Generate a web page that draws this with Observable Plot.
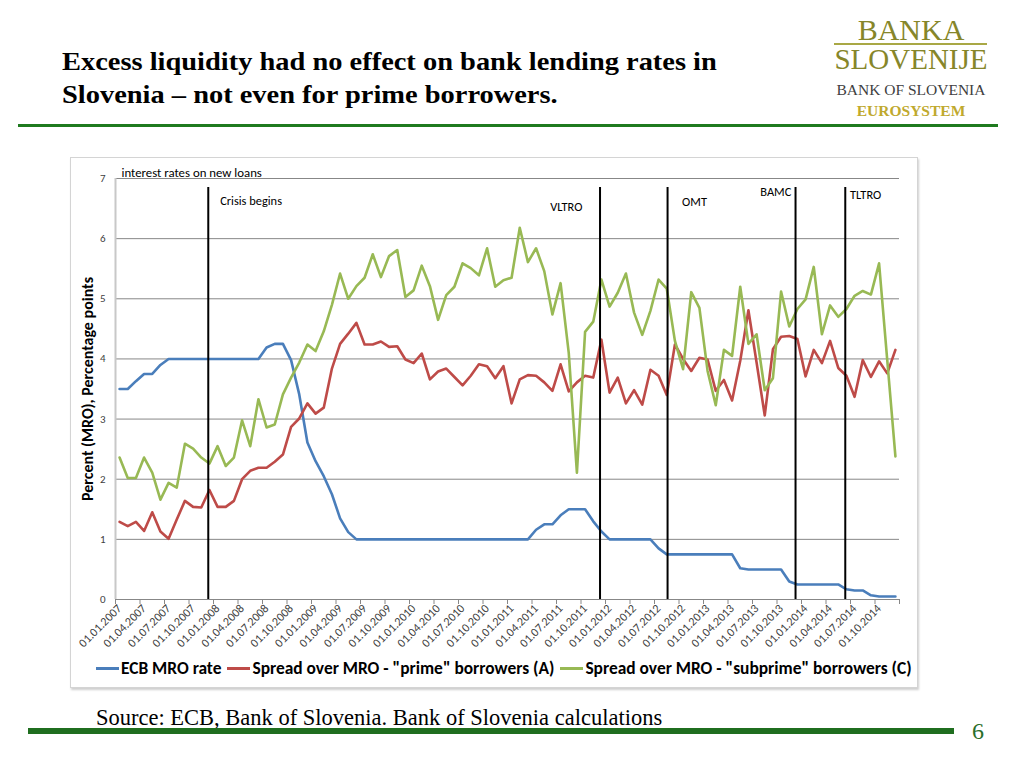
<!DOCTYPE html>
<html>
<head>
<meta charset="utf-8">
<script src="https://cdn.jsdelivr.net/npm/d3@7"></script>
<script src="https://cdn.jsdelivr.net/npm/@observablehq/plot@0.6"></script>
<style>
  html, body { margin: 0; padding: 0; background: #fff; }
  body { width: 1024px; height: 768px; position: relative; overflow: hidden; font-family: Carlito, Lato, sans-serif; }
  .serif { font-family: "Liberation Serif", "Times New Roman", serif; }
  #title { position: absolute; left: 62px; top: 46px; font-size: 25.5px; line-height: 32.5px; font-weight: bold; color: #000; white-space: nowrap; transform: scaleX(1.115); transform-origin: 0 0; }
  #rule1 { position: absolute; left: 18px; top: 124px; width: 980px; height: 3px; background: #1f7a1f; }
  #logo { position: absolute; left: 811px; top: 0; width: 200px; text-align: center; }
  #logo div { position: absolute; left: 0; width: 200px; line-height: 1; white-space: nowrap; }
  #frame { position: absolute; left: 70px; top: 157px; width: 846px; height: 529px; border: 1px solid #d4d4d4; box-shadow: 1px 2px 2px #cfcfcf; }
  #chart { position: absolute; left: 70px; top: 157px; }
  #legend { position: absolute; left: 96px; top: 658px; height: 20px; display: flex; align-items: center; font-family: Carlito, Lato, sans-serif; font-weight: bold; font-size: 17.4px; color: #000; white-space: nowrap; }
  #legend .sw { display: inline-block; width: 23px; height: 3px; margin-right: 2px; }
  #legend .it { display: flex; align-items: center; margin-right: 6px; }
  #source { position: absolute; left: 96px; top: 707px; font-size: 22.5px; line-height: 1; color: #000; white-space: nowrap; }
  #rule2 { position: absolute; left: 28px; top: 728px; width: 926px; height: 6px; background: #1f6e1f; }
  #page { position: absolute; left: 972px; top: 719px; font-size: 24px; line-height: 1; color: #2a6e2a; }
</style>
</head>
<body>
<div id="title" class="serif">Excess liquidity had no effect on bank lending rates in<br>Slovenia – not even for prime borrowers.</div>
<div id="rule1"></div>
<div id="logo" class="serif">
  <div style="top:15px;font-size:30px;color:#86862a;">BANKA</div>
  <div style="top:43px;left:23px;width:153px;height:2px;background:#a9a845;"></div>
  <div style="top:45px;font-size:29px;color:#86862a;">SLOVENIJE</div>
  <div style="top:82px;font-size:15.5px;color:#404040;">BANK OF SLOVENIA</div>
  <div style="top:103px;font-size:15.5px;font-weight:bold;color:#bfa92e;">EUROSYSTEM</div>
</div>
<div id="frame"></div>
<div id="chart"></div>
<div id="legend"></div>
<div id="source" class="serif">Source: ECB, Bank of Slovenia. Bank of Slovenia calculations</div>
<div id="rule2"></div>
<div id="page" class="serif">6</div>
<script>
// Monthly observations, January 2007 – December 2014
const mroRate = [
  3.5,3.5,3.63,3.75,3.75,3.9,4.0,4.0,4.0,4.0,4.0,4.0,
  4.0,4.0,4.0,4.0,4.0,4.0,4.19,4.25,4.25,3.98,3.41,2.61,
  2.3,2.05,1.75,1.35,1.12,1.0,1.0,1.0,1.0,1.0,1.0,1.0,
  1.0,1.0,1.0,1.0,1.0,1.0,1.0,1.0,1.0,1.0,1.0,1.0,
  1.0,1.0,1.0,1.16,1.25,1.25,1.4,1.5,1.5,1.5,1.3,1.13,
  1.0,1.0,1.0,1.0,1.0,1.0,0.85,0.75,0.75,0.75,0.75,0.75,
  0.75,0.75,0.75,0.75,0.52,0.5,0.5,0.5,0.5,0.5,0.3,0.25,
  0.25,0.25,0.25,0.25,0.25,0.17,0.15,0.15,0.07,0.05,0.05,0.05
];
const primeSpread = [
  1.29,1.22,1.29,1.14,1.45,1.13,1.01,1.33,1.64,1.54,1.53,1.82,
  1.54,1.54,1.64,2.0,2.14,2.19,2.19,2.29,2.41,2.87,3.01,3.26,
  3.09,3.19,3.84,4.25,4.42,4.6,4.24,4.24,4.29,4.2,4.21,3.99,
  3.93,4.09,3.66,3.79,3.84,3.7,3.56,3.72,3.91,3.88,3.68,3.88,
  3.26,3.66,3.73,3.72,3.61,3.47,3.91,3.46,3.61,3.72,3.69,4.32,
  3.44,3.69,3.26,3.48,3.24,3.82,3.72,3.4,4.24,4.0,3.8,4.02,
  3.99,3.47,3.65,3.31,3.97,4.81,3.94,3.06,4.16,4.37,4.38,4.33,
  3.71,4.15,3.93,4.3,3.85,3.72,3.37,3.98,3.7,3.96,3.76,4.15
];
const subprimeSpread = [
  2.36,2.02,2.02,2.36,2.11,1.66,1.94,1.86,2.59,2.51,2.36,2.26,
  2.55,2.22,2.36,2.98,2.55,3.33,2.86,2.91,3.41,3.69,3.94,4.24,
  4.13,4.46,4.9,5.42,5.0,5.21,5.35,5.74,5.36,5.71,5.81,5.03,
  5.14,5.55,5.21,4.65,5.06,5.2,5.59,5.51,5.39,5.84,5.2,5.31,
  5.35,6.18,5.61,5.84,5.46,4.74,5.26,4.1,2.11,4.45,4.62,5.32,
  4.87,5.1,5.42,4.77,4.4,4.8,5.32,5.17,4.3,3.83,5.11,4.85,
  3.8,3.23,4.15,4.05,5.2,4.25,4.41,3.48,3.68,5.12,4.54,4.83,
  4.99,5.53,4.41,4.89,4.7,4.83,5.05,5.13,5.07,5.59,3.98,2.38
];
const tickLabels = [
  "01.01.2007","01.04.2007","01.07.2007","01.10.2007",
  "01.01.2008","01.04.2008","01.07.2008","01.10.2008",
  "01.01.2009","01.04.2009","01.07.2009","01.10.2009",
  "01.01.2010","01.04.2010","01.07.2010","01.10.2010",
  "01.01.2011","01.04.2011","01.07.2011","01.10.2011",
  "01.01.2012","01.04.2012","01.07.2012","01.10.2012",
  "01.01.2013","01.04.2013","01.07.2013","01.10.2013",
  "01.01.2014","01.04.2014","01.07.2014","01.10.2014"
];
const yTicks = [0, 1, 2, 3, 4, 5, 6, 7];
const seriesNames = ["ECB MRO rate", "Spread over MRO - \"prime\" borrowers (A)", "Spread over MRO - \"subprime\" borrowers (C)"];
const seriesColors = ["#4a7ebb", "#be4b48", "#98b954"];
// Event markers: month index of the line, label centre, label level
const eventNames = ["Crisis begins", "VLTRO", "OMT", "BAMC", "TLTRO"];
const eventAt = [10.86, 58.83, 67.1, 82.77, 88.86];
const eventLabelAt = [16.1, 54.7, 70.4, 80.35, 91.35];
const eventLabelLevel = [6.62, 6.52, 6.61, 6.77, 6.72];
const eventTop = 6.85;
const yTitle = "Percent (MRO), Percentage points";
const topNote = "interest rates on new loans";

const rows = mroRate.map((v, i) => ({i, mro: v, prime: primeSpread[i], subprime: subprimeSpread[i]}));
const events = eventNames.map((name, k) => ({name, at: eventAt[k], labelAt: eventLabelAt[k], level: eventLabelLevel[k]}));
const labelPos = tickLabels.map((_, k) => k * 3);
const boundaries = d3.range(tickLabels.length + 1).map(k => k * 3 - 0.5);

const chart = Plot.plot({
  width: 848,
  height: 500,
  marginLeft: 45,
  marginRight: 19,
  marginTop: 21,
  marginBottom: 58,
  x: {domain: [-0.5, 95.5]},
  y: {domain: [0, 7]},
  style: {fontFamily: "Carlito, Lato, sans-serif", fontSize: "11.5px", color: "#404040", background: "transparent", overflow: "visible"},
  marks: [
    Plot.gridY(yTicks, {stroke: "#878787", strokeOpacity: 1, strokeWidth: 1}),
    Plot.ruleX([-0.5], {stroke: "#c8c8c8", strokeWidth: 2}),
    Plot.axisY({ticks: yTicks, tickSize: 0, tickPadding: 10, tickFormat: d => String(d), label: null, fontSize: 11}),
    Plot.axisX({ticks: boundaries, tickSize: 5, tickFormat: () => "", label: null, stroke: "#878787"}),
    Plot.axisX({ticks: labelPos, tickSize: 0, tickPadding: 7, tickRotate: -45, tickFormat: d => tickLabels[Math.round(d / 3)], label: null, fontSize: 12}),
    Plot.text([yTitle], {frameAnchor: "left", textAnchor: "middle", rotate: -90, dx: -28, fontWeight: "bold", fontSize: 16, fill: "#000"}),
    Plot.text([topNote], {frameAnchor: "top-left", textAnchor: "start", lineAnchor: "bottom", dx: 6, dy: -2, fontSize: 12.8, fill: "#000"}),
    Plot.lineY(rows, {x: "i", y: "mro", stroke: seriesColors[0], strokeWidth: 2.6}),
    Plot.lineY(rows, {x: "i", y: "prime", stroke: seriesColors[1], strokeWidth: 2.6}),
    Plot.lineY(rows, {x: "i", y: "subprime", stroke: seriesColors[2], strokeWidth: 2.6}),
    Plot.ruleX(events, {x: "at", y1: 0, y2: eventTop, stroke: "#000", strokeWidth: 2}),
    Plot.text(events, {x: "labelAt", y: "level", text: "name", fontSize: 12.4, fill: "#000"})
  ]
});
document.getElementById("chart").appendChild(chart);

const legend = document.getElementById("legend");
seriesNames.forEach((name, k) => {
  const it = document.createElement("span");
  it.className = "it";
  const sw = document.createElement("span");
  sw.className = "sw";
  sw.style.background = seriesColors[k];
  const tx = document.createElement("span");
  tx.textContent = name;
  it.appendChild(sw);
  it.appendChild(tx);
  legend.appendChild(it);
});
</script>
</body>
</html>
